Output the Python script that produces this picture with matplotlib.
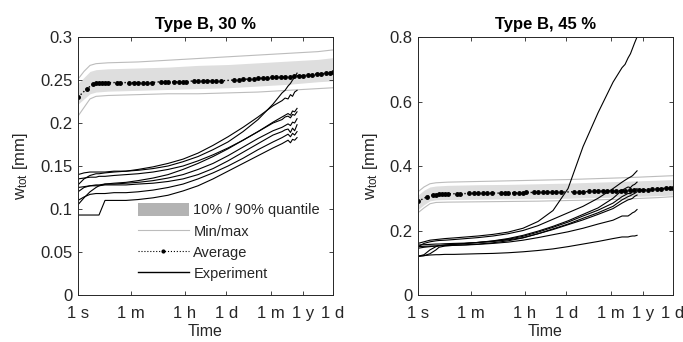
import matplotlib
matplotlib.use('Agg')
import matplotlib.pyplot as plt
from matplotlib.patches import Patch
from matplotlib.lines import Line2D
import numpy as np

plt.rcParams['font.family'] = ['Liberation Sans', 'DejaVu Sans']
plt.rcParams['mathtext.fontset'] = 'custom'
plt.rcParams['mathtext.rm'] = 'Liberation Sans'
plt.rcParams['mathtext.it'] = 'Liberation Sans'

# ---- data (times as log10 seconds) ----
TICK_SEC = [1, 60, 3600, 86400, 2.63e6, 3.156e7, 3.156e8]
TICK_LBL = ['1 s', '1 m', '1 h', '1 d', '1 m', '1 y', '1 d']

band_logt = [0, 0.2, 0.4, 0.6, 1, 2, 3, 4, 5, 6, 7, 8, 8.5]
avg_logt = [0, 0.3, 0.5, 0.6, 0.7, 0.8, 0.9, 1.0, 1.3, 1.4,
            1.7, 1.85, 2.0, 2.15, 2.3, 2.45, 2.75, 2.9, 3.0, 3.2,
            3.35, 3.5, 3.6, 3.85, 4.0, 4.15, 4.3, 4.45, 4.6, 4.75,
            5.2, 5.35, 5.5, 5.7, 5.85, 6.0, 6.15, 6.3, 6.45, 6.6,
            6.75, 6.9, 7.05, 7.2, 7.35, 7.5, 7.65, 7.8, 7.95, 8.1,
            8.25, 8.4, 8.5]
exp_logt = [0, 0.2, 0.4, 0.6, 0.7, 0.9, 1.2, 1.6, 2, 2.5, 3, 3.5, 4, 4.5,
            5, 5.5, 6, 6.5, 6.8, 6.9, 7.0, 7.08, 7.15, 7.22, 7.3]

# Type B, 30 %
b30_q90 = [0.246, 0.253, 0.260, 0.262, 0.263, 0.264, 0.265, 0.267, 0.268, 0.270, 0.272, 0.274, 0.276]
b30_q10 = [0.222, 0.228, 0.234, 0.236, 0.237, 0.238, 0.239, 0.240, 0.241, 0.243, 0.245, 0.248, 0.249]
b30_max = [0.251, 0.260, 0.267, 0.269, 0.270, 0.271, 0.273, 0.275, 0.277, 0.279, 0.281, 0.283, 0.285]
b30_min = [0.208, 0.218, 0.228, 0.231, 0.232, 0.233, 0.234, 0.234, 0.235, 0.236, 0.238, 0.240, 0.241]
b30_avg = [0.230, 0.240, 0.245, 0.246, 0.246, 0.247, 0.247, 0.247, 0.247, 0.247,
           0.247, 0.247, 0.247, 0.247, 0.247, 0.247, 0.248, 0.248, 0.248, 0.248,
           0.248, 0.248, 0.248, 0.249, 0.249, 0.249, 0.249, 0.249, 0.249, 0.249,
           0.250, 0.250, 0.251, 0.251, 0.251, 0.252, 0.252, 0.252, 0.253, 0.253,
           0.253, 0.254, 0.254, 0.255, 0.255, 0.255, 0.256, 0.256, 0.257, 0.257,
           0.258, 0.258, 0.259]
b30_exp = [
    [0.140, 0.142, 0.143, 0.143, 0.143, 0.143, 0.144, 0.144, 0.145, 0.147, 0.150, 0.155, 0.161, 0.169, 0.178, 0.190, 0.204, 0.222, 0.235, 0.238, 0.243, 0.246, 0.250, 0.253, 0.258],
    [0.128, 0.135, 0.139, 0.141, 0.141, 0.142, 0.143, 0.144, 0.146, 0.149, 0.153, 0.158, 0.165, 0.174, 0.184, 0.195, 0.207, 0.220, 0.226, 0.229, 0.228, 0.233, 0.231, 0.236, 0.238],
    [0.135, 0.136, 0.137, 0.137, 0.138, 0.138, 0.139, 0.140, 0.141, 0.143, 0.146, 0.150, 0.156, 0.163, 0.171, 0.180, 0.190, 0.201, 0.207, 0.209, 0.211, 0.209, 0.214, 0.213, 0.217],
    [0.105, 0.113, 0.120, 0.125, 0.127, 0.129, 0.130, 0.131, 0.133, 0.136, 0.140, 0.146, 0.153, 0.161, 0.170, 0.180, 0.190, 0.200, 0.204, 0.207, 0.208, 0.206, 0.210, 0.209, 0.213],
    [0.120, 0.125, 0.127, 0.128, 0.128, 0.129, 0.129, 0.130, 0.131, 0.133, 0.136, 0.140, 0.146, 0.153, 0.162, 0.172, 0.182, 0.191, 0.195, 0.197, 0.199, 0.197, 0.201, 0.200, 0.205],
    [0.125, 0.126, 0.127, 0.127, 0.127, 0.128, 0.128, 0.128, 0.129, 0.130, 0.132, 0.135, 0.140, 0.147, 0.156, 0.166, 0.176, 0.186, 0.190, 0.192, 0.193, 0.189, 0.194, 0.191, 0.198],
    [0.110, 0.114, 0.117, 0.118, 0.118, 0.118, 0.119, 0.119, 0.120, 0.122, 0.125, 0.129, 0.135, 0.142, 0.150, 0.159, 0.169, 0.178, 0.183, 0.185, 0.187, 0.184, 0.188, 0.186, 0.190],
    [0.093, 0.093, 0.093, 0.093, 0.093, 0.110, 0.110, 0.110, 0.111, 0.113, 0.116, 0.121, 0.127, 0.135, 0.144, 0.153, 0.162, 0.171, 0.176, 0.178, 0.180, 0.177, 0.181, 0.180, 0.183],
]

# Type B, 45 %
b45_q90 = [0.310, 0.325, 0.335, 0.338, 0.340, 0.342, 0.343, 0.345, 0.347, 0.350, 0.353, 0.356, 0.358]
b45_q10 = [0.265, 0.280, 0.292, 0.295, 0.296, 0.297, 0.298, 0.299, 0.300, 0.302, 0.305, 0.308, 0.310]
b45_max = [0.320, 0.335, 0.345, 0.348, 0.350, 0.352, 0.354, 0.356, 0.358, 0.361, 0.364, 0.368, 0.370]
b45_min = [0.255, 0.270, 0.283, 0.287, 0.288, 0.289, 0.290, 0.291, 0.293, 0.295, 0.298, 0.302, 0.305]
b45_avg = [0.290, 0.305, 0.310, 0.311, 0.312, 0.313, 0.313, 0.314, 0.314, 0.314,
           0.315, 0.315, 0.315, 0.315, 0.316, 0.316, 0.316, 0.317, 0.317, 0.317,
           0.317, 0.317, 0.318, 0.318, 0.318, 0.318, 0.318, 0.319, 0.319, 0.319,
           0.320, 0.320, 0.320, 0.321, 0.321, 0.322, 0.322, 0.322, 0.323, 0.323,
           0.324, 0.324, 0.325, 0.325, 0.326, 0.326, 0.327, 0.328, 0.329, 0.330,
           0.331, 0.332, 0.333]
b45_exp = [
    [0.160, 0.165, 0.170, 0.172, 0.173, 0.175, 0.177, 0.180, 0.183, 0.188, 0.195, 0.207, 0.228, 0.262, 0.330, 0.460, 0.565, 0.660, 0.705, 0.715, 0.735, 0.748, 0.765, 0.782, 0.800],
    [0.150, 0.160, 0.165, 0.168, 0.169, 0.170, 0.172, 0.175, 0.178, 0.183, 0.190, 0.200, 0.215, 0.235, 0.255, 0.275, 0.300, 0.330, 0.350, 0.356, 0.362, 0.366, 0.370, 0.377, 0.385],
    [0.120, 0.125, 0.140, 0.150, 0.153, 0.155, 0.157, 0.160, 0.163, 0.168, 0.175, 0.185, 0.198, 0.213, 0.230, 0.250, 0.270, 0.300, 0.325, 0.330, 0.335, 0.333, 0.340, 0.343, 0.350],
    [0.145, 0.148, 0.150, 0.152, 0.153, 0.155, 0.157, 0.160, 0.163, 0.167, 0.173, 0.182, 0.195, 0.210, 0.226, 0.245, 0.263, 0.285, 0.305, 0.310, 0.315, 0.314, 0.320, 0.324, 0.330],
    [0.120, 0.122, 0.128, 0.140, 0.148, 0.152, 0.154, 0.156, 0.158, 0.162, 0.168, 0.177, 0.190, 0.205, 0.220, 0.238, 0.255, 0.275, 0.295, 0.300, 0.305, 0.308, 0.312, 0.315, 0.320],
    [0.155, 0.156, 0.157, 0.158, 0.158, 0.159, 0.160, 0.161, 0.163, 0.166, 0.171, 0.178, 0.190, 0.203, 0.218, 0.233, 0.250, 0.268, 0.285, 0.290, 0.295, 0.297, 0.300, 0.306, 0.310],
    [0.150, 0.151, 0.152, 0.152, 0.153, 0.153, 0.154, 0.155, 0.157, 0.160, 0.164, 0.170, 0.178, 0.187, 0.196, 0.207, 0.220, 0.232, 0.245, 0.245, 0.245, 0.250, 0.255, 0.258, 0.265],
    [0.120, 0.122, 0.124, 0.125, 0.125, 0.126, 0.126, 0.127, 0.128, 0.129, 0.131, 0.134, 0.138, 0.143, 0.150, 0.158, 0.166, 0.175, 0.180, 0.180, 0.180, 0.182, 0.183, 0.183, 0.185],
]

# ---- drawing ----
BAND_C = '#dedede'
MINMAX_C = '#bcbcbc'
AXC = '#262626'
FS = 12

fig = plt.figure(figsize=(6.83, 3.42), dpi=100)
ax1 = fig.add_axes([0.1142, 0.1374, 0.3734, 0.7544])
ax2 = fig.add_axes([0.6120, 0.1374, 0.3734, 0.7544])

panels = [
    (ax1, 'Type B, 30 %', b30_q10, b30_q90, b30_min, b30_max, b30_avg, b30_exp,
     0.3, [0, 0.05, 0.1, 0.15, 0.2, 0.25, 0.3], ['0', '0.05', '0.1', '0.15', '0.2', '0.25', '0.3']),
    (ax2, 'Type B, 45 %', b45_q10, b45_q90, b45_min, b45_max, b45_avg, b45_exp,
     0.8, [0, 0.2, 0.4, 0.6, 0.8], ['0', '0.2', '0.4', '0.6', '0.8']),
]

bt = 10 ** np.array(band_logt)
at = 10 ** np.array(avg_logt)
et = 10 ** np.array(exp_logt)

for ax, title, q10, q90, vmin, vmax, avg, exps, ytop, yt, ylbl in panels:
    ax.fill_between(bt, q10, q90, color=BAND_C, lw=0)
    ax.plot(bt, vmin, color=MINMAX_C, lw=0.8)
    ax.plot(bt, vmax, color=MINMAX_C, lw=0.8)
    ax.plot(at, avg, color='k', ls=':', lw=1, marker='.', ms=5)
    for e in exps:
        ax.plot(et, e, color='k', lw=0.8)

    ax.set_xscale('log')
    ax.set_xlim(1, 3.156e8)
    ax.set_ylim(0, ytop)
    ax.set_xticks(TICK_SEC)
    ax.set_xticklabels(TICK_LBL)
    ax.set_yticks(yt)
    ax.set_yticklabels(ylbl)
    ax.tick_params(which='both', direction='in', top=True, right=True,
                   colors=AXC, labelsize=FS, labelcolor=AXC)
    ax.tick_params(which='major', length=3, width=0.6)
    ax.tick_params(which='minor', length=1.8, width=0.5)
    ax.tick_params(axis='x', pad=8)
    ax.tick_params(axis='y', pad=4)
    for s in ax.spines.values():
        s.set_color(AXC)
        s.set_linewidth(0.7)
    ax.set_title(title, fontsize=FS, fontweight='bold', color='k', pad=6)
    ax.set_xlabel('Time', fontsize=11.5, color=AXC, labelpad=2)
    ax.set_ylabel(r'w$_{\mathrm{tot}}$ [mm]', fontsize=FS, color=AXC, labelpad=7)

handles = [
    Patch(facecolor='#b3b3b3', edgecolor='none'),
    Line2D([], [], color=MINMAX_C, lw=0.8),
    Line2D([], [], color='k', ls=':', lw=0.8, marker='.', ms=4, markevery=[1]),
    Line2D([], [], color='k', lw=1),
]
labels = ['10% / 90% quantile', 'Min/max', 'Average', 'Experiment']
leg = ax1.legend(handles, labels, loc='upper left', bbox_to_anchor=(0.235, 0.357),
                 frameon=False, fontsize=10.5, handlelength=3.5, handleheight=1.0,
                 labelspacing=0.45, handletextpad=0.3, borderpad=0, borderaxespad=0)
for t in leg.get_texts():
    t.set_color(AXC)

fig.savefig('out.png', dpi=100)
